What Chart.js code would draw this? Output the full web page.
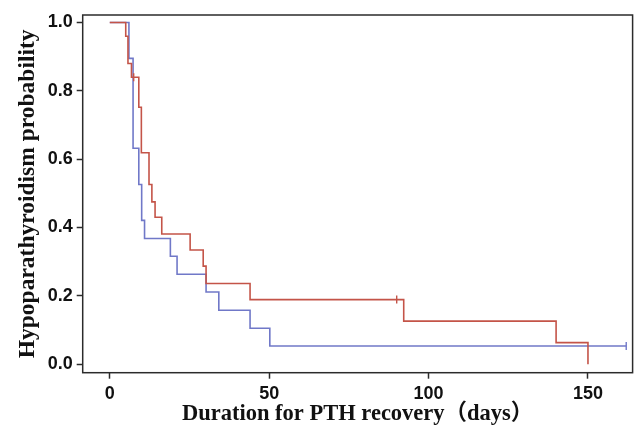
<!DOCTYPE html>
<html>
<head>
<meta charset="utf-8">
<script src="https://cdn.jsdelivr.net/npm/chart.js@4"></script>
<style>
  html, body { margin: 0; padding: 0; background: #fff; }
  #wrap { width: 638px; height: 427px; }
</style>
</head>
<body>
<div id="wrap"><canvas id="km" width="638" height="427"></canvas></div>
<script>
// --- DATA ---
const xTicks = [0, 50, 100, 150];
const yTicks = [0, 0.2, 0.4, 0.6, 0.8, 1.0];

// red group: step times and survival after each step
const redDays = [0, 5, 5.7, 6.8, 9.1, 9.9, 12.3, 13.2, 14.2, 16.3, 25.2, 29.3, 30.2, 44, 92.2, 140, 150];
const redSurv = [1, 0.96, 0.88, 0.84, 0.752, 0.619, 0.526, 0.475, 0.43, 0.381, 0.334, 0.287, 0.236, 0.189, 0.126, 0.063, 0];
const redCensorDays = [7.5, 90];
const redCensorSurv = [0.84, 0.189];

// blue group
const blueDays = [0, 6, 7.3, 9.1, 10, 10.9, 19, 21.1, 30.2, 34.2, 44, 50.2, 162];
const blueSurv = [1, 0.895, 0.632, 0.526, 0.421, 0.368, 0.316, 0.263, 0.211, 0.158, 0.105, 0.053, 0.053];
const blueCensorDays = [162];
const blueCensorSurv = [0.053];

const RED = 'rgb(196, 84, 72)';
const BLUE = 'rgb(112, 120, 200)';
const AXIS = '#2b2b2b';

const toPts = (xs, ys) => xs.map((x, i) => ({ x: x, y: ys[i] }));

// box around the plot area
const framePlugin = {
    id: 'frame',
    afterDraw(chart) {
        const { ctx, chartArea: a } = chart;
        ctx.save();
        ctx.strokeStyle = AXIS;
        ctx.lineWidth = 1.5;
        ctx.strokeRect(a.left, a.top, a.right - a.left, a.bottom - a.top);
        ctx.restore();
    }
};

const serif = "'Liberation Serif', 'Times New Roman', 'Noto Sans CJK SC', serif";
const sans = "'Liberation Sans', Arial, sans-serif";

new Chart(document.getElementById('km').getContext('2d'), {
    type: 'scatter',
    data: {
        datasets: [
            {
                data: toPts(redDays, redSurv),
                showLine: true,
                stepped: 'before',
                borderColor: RED,
                borderWidth: 1.6,
                pointRadius: 0,
                fill: false
            },
            {
                data: toPts(redCensorDays, redCensorSurv),
                pointStyle: 'line',
                rotation: 90,
                pointRadius: 4,
                borderColor: RED,
                borderWidth: 1.4
            },
            {
                data: toPts(blueDays, blueSurv),
                showLine: true,
                stepped: 'before',
                borderColor: BLUE,
                borderWidth: 1.6,
                pointRadius: 0,
                fill: false
            },
            {
                data: toPts(blueCensorDays, blueCensorSurv),
                pointStyle: 'line',
                rotation: 90,
                pointRadius: 4,
                borderColor: BLUE,
                borderWidth: 1.4
            }
        ]
    },
    options: {
        responsive: false,
        animation: false,
        devicePixelRatio: 1,
        layout: { padding: { left: 0, top: 15, right: 3, bottom: 0 } },
        plugins: {
            legend: { display: false },
            tooltip: { enabled: false }
        },
        scales: {
            x: {
                type: 'linear',
                min: -8.5,
                max: 164,
                afterBuildTicks: s => { s.ticks = xTicks.map(v => ({ value: v })); },
                afterFit: s => { s.height = 54.3; },
                grid: { drawOnChartArea: false, drawTicks: true, tickLength: 6, tickColor: AXIS, tickWidth: 1.5 },
                border: { display: false },
                ticks: {
                    color: '#111',
                    font: { family: sans, size: 18, weight: 'bold' },
                    padding: 5,
                    maxRotation: 0,
                    callback: v => String(v)
                },
                title: {
                    display: true,
                    text: 'Duration for PTH recovery（days）',
                    color: '#111',
                    font: { family: serif, size: 22.5, weight: 'bold', lineHeight: 1.1 },
                    padding: { top: 0, bottom: 0 }
                }
            },
            y: {
                type: 'linear',
                min: -0.025,
                max: 1.022,
                afterBuildTicks: s => { s.ticks = yTicks.map(v => ({ value: v })); },
                afterFit: s => { s.width = 82.7; },
                grid: { drawOnChartArea: false, drawTicks: true, tickLength: 6, tickColor: AXIS, tickWidth: 1.5 },
                border: { display: false },
                ticks: {
                    color: '#111',
                    font: { family: sans, size: 18, weight: 'bold' },
                    padding: 4,
                    callback: v => v.toFixed(1)
                },
                title: {
                    display: true,
                    text: 'Hypoparathyroidism probability',
                    color: '#111',
                    font: { family: serif, size: 23.5, weight: 'bold' },
                    padding: { top: 14, bottom: 0 }
                }
            }
        }
    },
    plugins: [framePlugin]
});
</script>
</body>
</html>
